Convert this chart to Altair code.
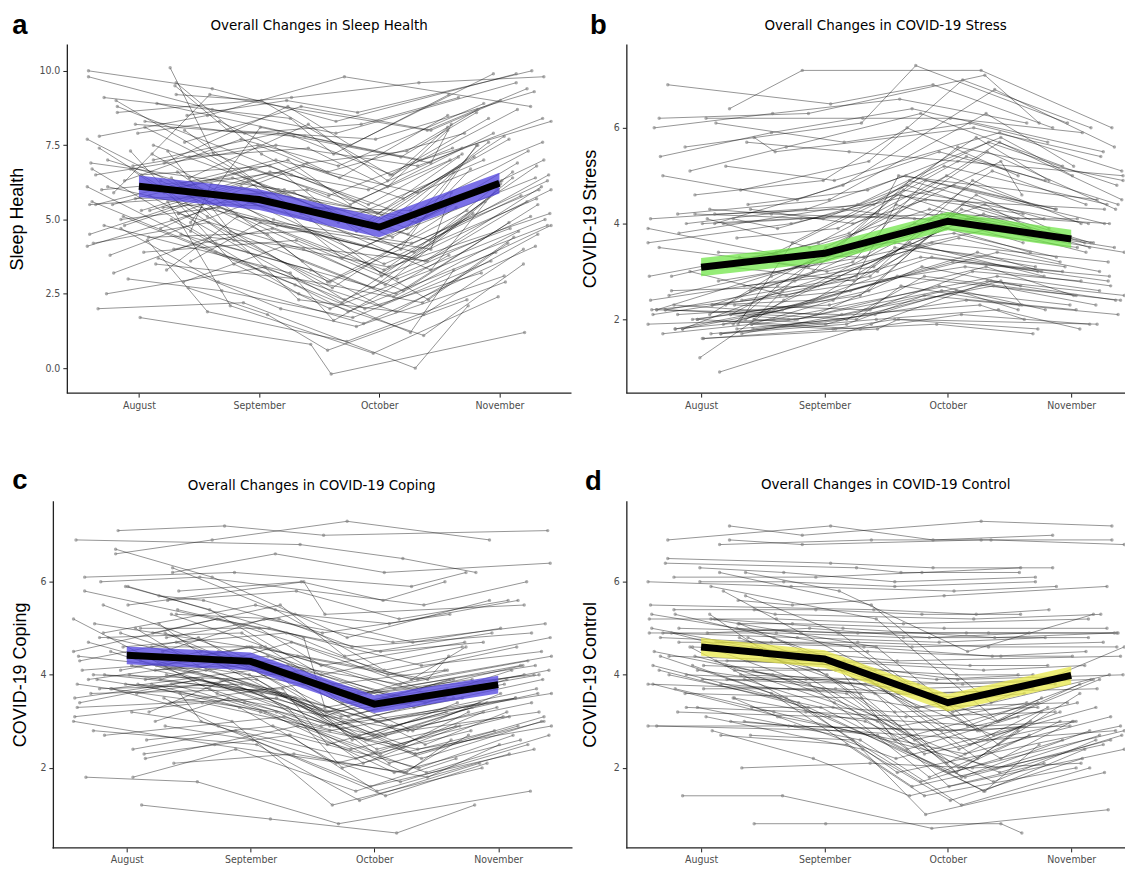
import altair as alt
import pandas as pd

months = ["August", "September", "October", "November"]

# ---- individual trajectories ----
sleep_aug = [9.8, 9.2, 8.8, 8.3, 8.0, 7.8, 7.5, 7.3, 7.1, 7.0, 6.9, 6.7, 6.5, 6.4, 6.3, 6.2, 6.1, 6.0, 5.9, 5.8,
             5.7, 5.6, 5.5, 5.3, 5.2, 5.0, 4.9, 4.8, 4.7, 4.5, 4.3, 4.0, 3.8, 3.5, 3.0, 2.9, 2.0, 1.7, 10.1, 9.0,
             8.5, 7.7, 7.2, 6.8, 6.6, 6.0, 5.4, 5.1, 4.6, 4.2, 3.9, 3.3, 2.5, 8.9, 7.9, 6.2, 5.5, 4.4, 9.5, 6.9,
             10.0, 9.6, 8.6, 8.1, 7.6, 7.4, 7.0, 6.7, 6.4, 6.1, 5.9, 5.6, 5.3, 5.0, 4.8, 4.5, 4.1, 3.7, 3.2, 2.7,
             8.2, 7.3, 6.5, 5.8, 5.2, 4.7, 3.6, 9.1, 6.3, 5.5]
sleep_sep = [8.7, 9.0, 6.5, 7.9, 5.2, 8.5, 6.0, 3.5, 7.4, 5.5, 8.8, 4.2, 6.8, 2.3, 7.7, 5.0, 3.8, 6.6, 9.2, 4.5,
             5.9, 2.1, 7.0, 6.3, 4.0, 5.4, 8.1, 3.2, 5.8, 6.9, 1.9, 4.7, 5.6, 3.0, 2.6, 4.1, 2.2, 0.8, 7.2, 6.1,
             9.0, 5.3, 4.8, 7.5, 3.6, 6.4, 5.7, 2.8, 6.2, 4.9, 4.3, 5.1, 3.4, 7.8, 8.3, 5.0, 6.7, 4.6, 8.0, 6.0,
             9.4, 7.2, 9.1, 6.4, 8.8, 5.1, 7.9, 4.3, 8.2, 5.0, 7.0, 3.9, 6.6, 2.5, 6.1, 3.3, 5.5, 2.0, 4.4, 1.8,
             7.8, 4.6, 7.5, 3.9, 6.8, 2.9, 4.9, 8.4, 5.2, 6.0]
sleep_oct = [7.9, 6.5, 5.0, 8.2, 3.3, 9.8, 4.0, 2.0, 6.1, 3.9, 7.5, 2.5, 5.5, 1.8, 6.8, 3.2, 1.2, 4.6, 8.0, 2.9,
             4.4, 0.5, 5.9, 3.7, 2.6, 4.1, 6.9, 1.6, 3.5, 7.3, 0.9, 3.0, 5.2, 2.2, 1.7, 3.4, 0.0, -0.2, 5.8, 4.9,
             8.6, 2.8, 3.6, 6.4, 2.4, 4.8, 4.3, 1.9, 5.1, 2.7, 3.1, 4.2, 2.0, 7.0, 6.6, 3.8, 5.6, 2.3, 7.7, 4.5,
             8.3, 5.0, 9.6, 4.8, 8.0, 2.3, 7.1, 2.9, 6.3, 3.7, 5.5, 1.9, 6.0, 1.1, 4.9, 2.1, 5.3, 1.4, 3.6, 0.6,
             6.5, 2.7, 6.8, 2.2, 5.7, 1.5, 4.0, 7.2, 3.3, 4.7]
sleep_nov = [9.6, 8.4, 7.0, 9.1, 6.2, 8.8, 7.5, 4.8, 8.0, 6.6, 9.9, 5.5, 7.2, 4.0, 8.9, 6.0, 3.3, 7.8, 9.4, 5.3,
             6.9, 2.4, 7.6, 5.9, 4.9, 6.4, 8.2, 3.8, 5.7, 8.7, 2.9, 5.0, 6.8, 4.4, 3.6, 5.2, 2.1, 1.2, 7.4, 6.3,
             10.0, 5.6, 6.1, 8.5, 4.6, 7.1, 6.5, 3.9, 7.3, 5.4, 4.7, 6.0, 3.2, 8.3, 7.9, 5.8, 7.0, 4.2, 9.3, 6.7,
             9.9, 7.6, 9.8, 7.1, 9.0, 5.1, 8.6, 6.3, 8.1, 6.4, 7.9, 4.5, 7.4, 3.5, 7.0, 4.8, 6.6, 3.1, 5.6, 2.3,
             8.7, 6.0, 8.4, 5.2, 7.7, 4.1, 5.9, 9.2, 6.8, 7.5]

stress_aug = [1.7, 1.8, 1.9, 2.0, 2.1, 2.2, 2.3, 1.7, 1.8, 2.0, 2.2, 1.9, 2.4, 2.1, 1.8, 2.6, 2.8, 3.0, 3.2, 3.5,
              4.0, 4.1, 4.2, 4.3, 3.9, 4.0, 4.2, 4.7, 5.0, 5.2, 5.6, 5.8, 6.0, 6.2, 6.4, 6.9, 0.9, 1.2, 2.0, 2.3,
              1.7, 1.9, 2.2, 2.9, 3.3, 3.8, 4.1, 4.4, 5.4, 6.1, 2.0, 1.8, 2.5, 3.1, 2.1, 1.6, 2.3, 4.0, 2.7, 1.9,
              1.7, 1.8, 1.9, 2.0, 2.1, 2.2, 2.3, 2.4, 1.8, 2.0, 2.2, 4.0, 4.1, 4.3, 3.7, 2.9, 3.4, 5.1, 5.7, 6.2,
              1.6, 1.9, 2.1, 2.6, 3.6, 4.2, 4.6, 2.0, 1.7, 2.3]
stress_sep = [1.9, 2.0, 2.4, 1.8, 2.8, 2.1, 3.0, 2.2, 2.6, 3.5, 2.0, 2.3, 3.1, 2.9, 2.0, 2.7, 3.3, 2.5, 3.8, 3.1,
              4.2, 3.9, 4.5, 4.0, 3.3, 4.8, 4.1, 5.3, 4.5, 4.9, 6.1, 5.5, 6.3, 6.2, 7.2, 6.5, 1.9, 2.4, 2.9, 2.1,
              2.0, 3.6, 2.6, 3.4, 3.0, 4.4, 3.5, 4.7, 5.9, 5.7, 2.3, 2.1, 3.2, 2.8, 2.5, 1.8, 2.2, 4.3, 3.0, 2.0,
              2.0, 2.2, 1.8, 2.5, 2.0, 3.4, 2.4, 2.9, 2.2, 1.9, 2.9, 4.1, 4.4, 4.2, 3.9, 3.6, 3.3, 5.6, 5.5, 6.3,
              1.8, 2.7, 2.3, 3.2, 4.0, 4.3, 4.9, 2.6, 2.0, 3.5]
stress_oct = [2.5, 2.9, 3.5, 2.1, 4.2, 2.8, 4.9, 3.0, 3.6, 5.3, 2.7, 3.2, 4.6, 4.0, 2.4, 3.9, 5.1, 3.3, 5.6, 4.4,
              5.0, 4.6, 6.3, 4.5, 3.8, 6.8, 4.8, 7.0, 5.5, 5.9, 7.3, 6.0, 6.6, 6.2, 7.2, 6.9, 2.8, 3.6, 4.1, 3.1,
              2.2, 5.2, 3.4, 4.7, 3.7, 5.7, 4.3, 5.8, 6.4, 6.1, 2.9, 2.6, 4.2, 3.5, 3.1, 1.9, 2.7, 5.0, 4.0, 2.3,
              2.9, 3.4, 2.0, 4.3, 2.6, 5.5, 3.6, 4.9, 3.3, 2.8, 4.6, 4.2, 5.8, 4.1, 5.4, 5.0, 3.9, 6.3, 5.3, 7.1,
              2.0, 4.4, 3.1, 4.9, 4.8, 3.9, 6.0, 4.4, 2.7, 5.7]
stress_nov = [2.2, 2.6, 3.0, 1.9, 3.7, 2.4, 4.1, 2.8, 3.2, 4.6, 2.3, 2.9, 3.9, 3.5, 2.1, 3.4, 4.4, 3.0, 4.9, 3.8,
              4.5, 4.2, 5.2, 4.3, 3.3, 5.6, 4.1, 6.0, 4.9, 5.1, 6.1, 5.4, 6.1, 5.9, 6.0, 6.0, 2.5, 3.1, 3.6, 2.7,
              1.8, 4.4, 3.0, 4.0, 3.2, 4.8, 3.9, 5.0, 5.5, 5.7, 2.4, 2.2, 3.6, 3.1, 2.7, 1.7, 2.3, 4.3, 3.4, 2.0,
              2.5, 3.0, 1.8, 3.5, 2.3, 4.3, 2.9, 4.0, 2.8, 2.3, 3.8, 4.0, 4.9, 4.1, 4.4, 4.4, 3.4, 5.2, 5.0, 6.1,
              1.9, 3.6, 2.5, 4.0, 4.3, 3.5, 5.0, 3.6, 2.2, 4.5]

coping_aug = [6.6, 6.3, 6.1, 5.9, 5.7, 5.5, 5.3, 5.2, 5.0, 4.9, 4.8, 4.7, 4.6, 4.5, 4.4, 4.3, 4.2, 4.1, 4.0, 3.9,
              3.8, 3.8, 3.7, 3.6, 3.5, 3.3, 3.1, 2.9, 2.7, 2.4, 2.1, 1.8, 1.2, 7.1, 5.8, 5.1, 4.9, 4.4, 4.0, 3.9,
              3.7, 3.4, 3.0, 2.6, 6.0, 5.4, 4.6, 4.2, 4.1, 3.8, 5.6, 4.8, 4.3, 3.6, 3.2, 6.9, 5.0, 4.5, 3.9, 2.3,
              6.7, 6.2, 5.8, 5.5, 5.1, 4.9, 4.7, 4.5, 4.3, 4.1, 4.0, 3.9, 3.8, 3.7, 3.6, 3.4, 3.2, 3.0, 2.8, 2.2,
              5.9, 5.3, 4.8, 4.4, 4.2, 3.8, 3.5, 4.9, 4.0, 1.8]
coping_sep = [6.9, 5.4, 6.2, 4.8, 5.6, 4.3, 5.2, 3.6, 5.0, 4.0, 5.3, 3.9, 4.6, 3.3, 4.5, 4.8, 3.5, 4.2, 3.9, 4.4,
              3.7, 3.2, 3.8, 4.1, 2.9, 3.5, 3.4, 2.6, 3.1, 2.8, 2.3, 1.7, 0.9, 7.2, 6.0, 4.6, 5.5, 4.1, 3.6, 4.7,
              3.0, 3.8, 2.5, 2.9, 6.1, 5.0, 4.9, 3.9, 4.4, 3.3, 5.8, 4.3, 4.6, 3.7, 3.9, 6.8, 4.2, 5.2, 3.4, 2.7,
              6.1, 6.6, 5.1, 6.0, 4.4, 5.5, 4.0, 5.2, 3.7, 4.6, 3.5, 4.3, 3.2, 4.2, 3.0, 3.9, 2.7, 3.5, 2.5, 2.9,
              5.4, 4.6, 4.9, 3.8, 4.5, 3.2, 3.9, 4.1, 3.6, 2.4]
coping_oct = [7.3, 4.1, 5.9, 3.3, 4.9, 2.8, 4.6, 2.3, 4.2, 2.9, 5.1, 2.6, 3.6, 2.0, 3.8, 3.2, 2.4, 3.5, 2.7, 3.9,
              2.9, 1.9, 3.1, 3.4, 1.6, 2.5, 2.8, 1.4, 2.3, 2.2, 1.8, 0.8, 0.6, 7.0, 5.6, 3.4, 4.4, 2.9, 2.1, 3.7,
              1.2, 3.0, 1.9, 2.4, 5.5, 4.2, 4.0, 2.6, 3.3, 2.1, 5.2, 3.6, 3.9, 2.5, 3.0, 6.5, 3.1, 4.7, 2.7, 2.0,
              4.8, 6.2, 3.9, 5.3, 3.1, 4.7, 2.6, 4.5, 2.2, 3.8, 2.1, 3.6, 1.9, 3.4, 1.7, 3.2, 1.5, 2.8, 1.3, 2.4,
              4.0, 3.7, 3.5, 2.5, 3.6, 1.9, 2.9, 2.7, 2.3, 1.5]
coping_nov = [6.9, 4.8, 6.2, 4.0, 5.3, 3.6, 4.9, 3.2, 4.5, 3.5, 5.6, 3.3, 4.1, 2.8, 4.3, 3.9, 3.1, 4.0, 3.4, 4.4,
              3.5, 2.6, 3.7, 3.9, 2.4, 3.2, 3.5, 2.1, 3.0, 2.9, 2.5, 1.5, 1.2, 7.1, 6.0, 4.1, 4.9, 3.6, 2.9, 4.2,
              2.0, 3.6, 2.6, 3.1, 6.0, 4.7, 4.6, 3.3, 3.9, 2.8, 5.6, 4.2, 4.4, 3.2, 3.7, 6.2, 3.8, 5.1, 3.4, 2.7,
              5.6, 6.4, 4.6, 5.5, 3.9, 5.0, 3.4, 4.7, 3.0, 4.1, 2.9, 3.9, 2.7, 3.7, 2.5, 3.5, 2.3, 3.2, 2.1, 2.9,
              4.6, 4.2, 4.1, 3.2, 4.0, 2.7, 3.5, 3.4, 3.1, 2.2]

control_aug = [7.2, 6.9, 6.8, 6.3, 6.2, 6.1, 5.9, 5.6, 5.3, 5.2, 5.1, 5.0, 4.9, 4.8, 4.8, 4.7, 4.6, 4.5, 4.4, 4.3,
               4.2, 4.2, 4.1, 4.0, 3.9, 3.8, 3.8, 3.7, 3.3, 3.3, 3.0, 2.9, 2.8, 2.0, 1.4, 0.8, 6.4, 5.8, 5.5, 5.3,
               5.0, 4.9, 4.7, 4.6, 4.3, 4.1, 3.9, 3.5, 3.2, 2.7, 6.0, 5.2, 4.4, 4.0, 4.9, 4.2, 3.6, 5.4, 4.5, 3.1,
               6.9, 6.5, 6.2, 6.0, 5.7, 5.4, 5.2, 5.1, 5.0, 4.9, 4.8, 4.7, 4.6, 4.5, 4.4, 4.3, 4.2, 4.1, 4.0, 3.9,
               3.8, 3.7, 3.5, 3.3, 3.0, 2.9, 2.7, 5.3, 4.6, 4.1]
control_sep = [7.0, 7.2, 6.9, 6.2, 5.8, 6.1, 5.2, 5.5, 4.6, 5.2, 4.3, 4.9, 5.0, 3.9, 4.7, 4.2, 4.5, 3.6, 4.3, 4.2,
               3.5, 4.1, 3.8, 3.9, 3.0, 3.7, 3.6, 3.2, 3.3, 2.6, 2.9, 2.8, 2.2, 2.1, 1.4, 0.8, 6.3, 4.9, 5.4, 4.4,
               4.9, 4.1, 4.6, 3.5, 4.2, 3.3, 3.8, 3.1, 3.1, 2.6, 5.9, 5.0, 3.7, 3.9, 4.8, 3.4, 3.5, 5.3, 4.0, 2.4,
               6.8, 6.4, 5.5, 6.0, 4.9, 5.4, 4.6, 5.1, 4.2, 4.9, 4.0, 4.7, 3.8, 4.5, 3.6, 4.3, 3.4, 4.1, 3.3, 3.9,
               3.1, 3.7, 3.0, 3.2, 2.7, 2.9, 2.5, 4.8, 4.3, 3.6]
control_oct = [7.3, 6.9, 6.9, 6.0, 4.5, 6.2, 3.0, 5.7, 2.8, 5.1, 2.4, 4.9, 4.8, 2.2, 4.6, 2.5, 4.3, 1.9, 4.1, 3.3,
               1.8, 3.9, 2.7, 3.7, 1.6, 3.5, 2.3, 2.0, 3.2, 1.2, 2.8, 2.6, 1.4, 2.0, 0.7, 0.8, 6.2, 3.2, 5.3, 2.6,
               4.9, 2.1, 4.4, 1.7, 3.9, 1.5, 3.6, 2.2, 2.9, 1.0, 5.8, 4.8, 2.4, 3.8, 4.7, 1.9, 3.3, 5.2, 2.9, 1.3,
               6.9, 6.3, 3.4, 5.9, 2.9, 5.3, 2.5, 5.0, 2.2, 4.8, 2.0, 4.6, 1.8, 4.4, 1.6, 4.2, 1.9, 4.0, 1.5, 3.8,
               2.3, 3.6, 1.7, 3.1, 1.9, 2.8, 1.4, 3.0, 2.6, 1.8]
control_nov = [7.2, 7.0, 6.8, 6.1, 5.3, 6.3, 3.8, 5.9, 3.5, 5.2, 3.2, 4.9, 4.9, 3.0, 4.7, 3.3, 4.4, 2.8, 4.2, 3.9,
               2.6, 4.0, 3.3, 3.8, 2.4, 3.6, 3.0, 2.7, 3.3, 2.0, 2.9, 2.8, 2.1, 2.1, 1.1, 0.6, 6.2, 4.0, 5.4, 3.4,
               4.9, 3.0, 4.5, 2.6, 4.0, 2.5, 3.7, 2.9, 3.0, 1.9, 5.9, 4.9, 3.1, 3.9, 4.8, 2.7, 3.4, 5.3, 3.4, 2.2,
               6.9, 6.3, 4.6, 6.0, 3.9, 5.3, 3.6, 5.0, 3.2, 4.8, 3.0, 4.6, 2.7, 4.4, 2.5, 4.2, 2.9, 4.0, 2.4, 3.9,
               3.1, 3.7, 2.6, 3.2, 2.8, 2.9, 2.0, 3.9, 3.4, 2.8]

# horizontal jitter offsets (in months)
jitter = [-0.42, 0.31, -0.18, 0.05, 0.38, -0.33, 0.12, -0.07, 0.42, -0.26,
          0.21, -0.39, 0.02, 0.27, -0.12, 0.35, -0.43, 0.16, -0.21, 0.41,
          -0.03, 0.24, -0.36, 0.09, 0.33, -0.15, 0.43, -0.29, 0.18, -0.41,
          0.07, 0.29, -0.24, 0.14, -0.09, 0.37, -0.34, 0.01, 0.26, -0.19,
          0.40, -0.43, 0.11, -0.05, 0.32, -0.31, 0.20, -0.13, 0.43, -0.38,
          0.04, 0.23, -0.27, 0.15, -0.01, 0.36, -0.22, 0.08, 0.30, -0.40]

# ---- overall means and band half-widths ----
sleep_mean = [6.12, 5.67, 4.74, 6.22]
stress_mean = [3.09, 3.38, 4.05, 3.68]
coping_mean = [4.42, 4.29, 3.37, 3.79]
control_mean = [4.60, 4.34, 3.40, 3.99]
sleep_se = [0.36, 0.35, 0.34, 0.35]
stress_se = [0.19, 0.19, 0.19, 0.19]
coping_se = [0.19, 0.19, 0.19, 0.19]
control_se = [0.19, 0.19, 0.19, 0.19]

NARROW = "DejaVu Sans Condensed, Liberation Sans Narrow, Arial Narrow, sans-serif"
SANS = "Liberation Sans, Arial, sans-serif"
AXIS_COLOR = "#222222"


def panel(p, letter, title, ytitle, series, means, ses, band_color, band_op,
          xdom, xline, ydom, yvals, yfmt, width, height, letter_dx, letter_dy,
          title_dx, title_dy, tpad, yoff):
    rows = []
    n = len(series[0])
    for i in range(n):
        for t in range(4):
            v = series[t][i]
            if v is None:
                continue
            rows.append({"s": i, "x": t + jitter[(i + 11 * t + 17 * p) % len(jitter)], "y": v})
    df = pd.DataFrame(rows)
    mdf = pd.DataFrame({"x": [0, 1, 2, 3], "y": means,
                        "lo": [m - s for m, s in zip(means, ses)],
                        "hi": [m + s for m, s in zip(means, ses)]})
    xs = alt.Scale(domain=xdom, nice=False, zero=False)
    ys = alt.Scale(domain=ydom, nice=False, zero=False)
    xax = alt.Axis(values=[0, 1, 2, 3], title=None, domain=False,
                   labelExpr="['August','September','October','November'][datum.value]")
    yax = alt.Axis(values=yvals, format=yfmt, title=ytitle, titlePadding=tpad, offset=yoff)
    base = alt.Chart(df)
    lines = base.mark_line(color="#000000", strokeWidth=1.0, opacity=0.42, clip=True).encode(
        x=alt.X("x:Q", scale=xs, axis=xax),
        y=alt.Y("y:Q", scale=ys, axis=yax),
        detail="s:N")
    pts = base.mark_circle(color="#7a7a7a", size=12, opacity=0.6, clip=True).encode(
        x="x:Q", y="y:Q")
    band = alt.Chart(mdf).mark_area(color=band_color, opacity=band_op).encode(
        x="x:Q", y="lo:Q", y2="hi:Q")
    mline = alt.Chart(mdf).mark_line(color="black", strokeWidth=7).encode(x="x:Q", y="y:Q")
    # x axis line (spans from the y axis to the right edge)
    xrule = alt.Chart(pd.DataFrame({"x1": [xline[0]], "x2": [xline[1]], "y0": [ydom[0]]})).mark_rule(
        color=AXIS_COLOR, strokeWidth=1.3).encode(x="x1:Q", x2="x2:Q", y="y0:Q")
    txt = alt.Chart(pd.DataFrame({"l": [letter], "t": [title]}))
    lab = txt.mark_text(
        font=SANS, fontSize=27.5, fontWeight="bold", align="center", baseline="alphabetic",
        color="black").encode(x=alt.value(letter_dx), y=alt.value(letter_dy), text="l:N")
    ttl = txt.mark_text(
        font=NARROW, fontSize=15, align="center", baseline="alphabetic",
        color="black").encode(x=alt.value(width / 2 + title_dx), y=alt.value(title_dy), text="t:N")
    return alt.layer(lines, pts, band, mline, xrule, lab, ttl).properties(width=width, height=height)


pa = panel(0, "a", "Overall Changes in Sleep Health", "Sleep Health",
           [sleep_aug, sleep_sep, sleep_oct, sleep_nov], sleep_mean, sleep_se, "#5548e0", 0.78,
           [-0.6, 3.6], [-0.6, 3.6], [-0.84, 10.9], [0, 2.5, 5, 7.5, 10], ".1f", 506, 350,
           -47, -10, 0, -14, 12, 0)
pb = panel(1, "b", "Overall Changes in COVID-19 Stress", "COVID-19 Stress",
           [stress_aug, stress_sep, stress_oct, stress_nov], stress_mean, stress_se, "#72e64a", 0.75,
           [-0.606, 3.436], [-0.606, 3.436], [0.46, 7.75], [2, 4, 6], "d", 500, 350,
           -28, -10, 10, -14, 13.5, 0)
pc = panel(2, "c", "Overall Changes in COVID-19 Coping", "COVID-19 Coping",
           [coping_aug, coping_sep, coping_oct, coping_nov], coping_mean, coping_se, "#5548e0", 0.78,
           [-0.484, 3.6], [-0.6, 3.6], [0.28, 7.74], [2, 4, 6], "d", 507, 348,
           -47, -12, -8, -11, 10, 14)
pd_ = panel(3, "d", "Overall Changes in COVID-19 Control", "COVID-19 Control",
            [control_aug, control_sep, control_oct, control_nov], control_mean, control_se, "#e8e84a", 0.75,
            [-0.606, 3.436], [-0.606, 3.436], [0.28, 7.74], [2, 4, 6], "d", 500, 348,
            -33, -11, 10, -12, 13.5, 0)

chart = alt.concat(pa, pb, pc, pd_, columns=2).properties(
    padding={"left": 0, "top": 3, "right": 0, "bottom": 0},
    spacing={"row": 56, "column": 8},
).configure_view(stroke=None).configure_axis(
    grid=False, domainColor=AXIS_COLOR, domainWidth=1.3, tickColor=AXIS_COLOR, tickSize=4,
    tickWidth=1, labelColor="#4d4d4d", labelFont=NARROW, labelFontSize=10.5, labelPadding=3,
    titleFont=SANS, titleFontSize=18, titleFontWeight="normal", titleColor="black"
)

chart.save("out.html", embed_options={"renderer": "svg", "actions": False})
